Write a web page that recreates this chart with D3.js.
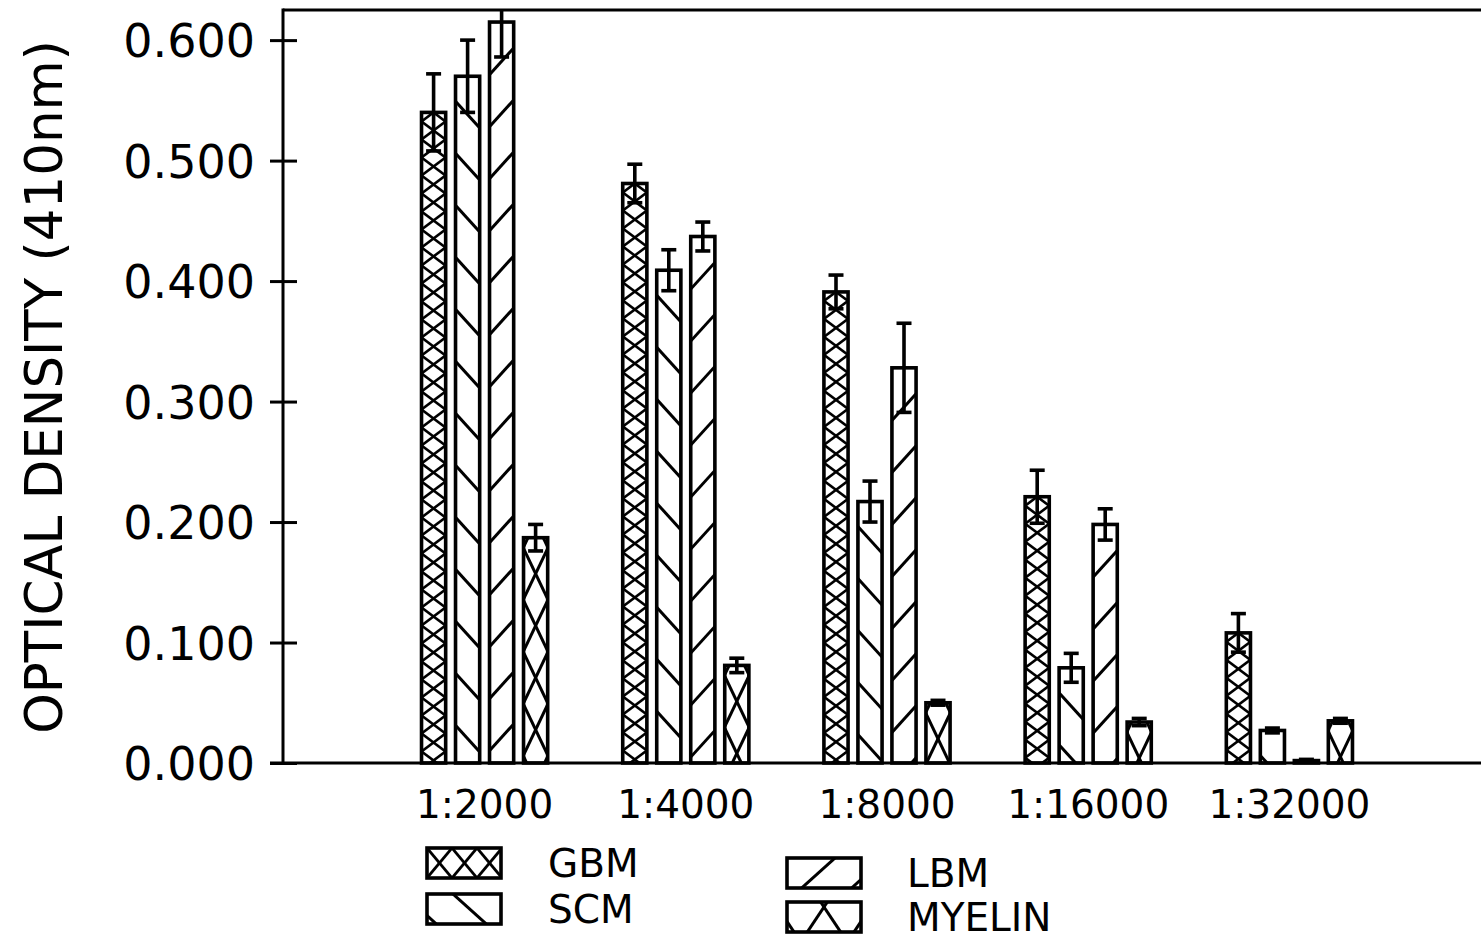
<!DOCTYPE html>
<html><head><meta charset="utf-8">
<script src="https://cdn.jsdelivr.net/npm/d3@7"></script>
<style>body{margin:0;background:#fff}svg{display:block}</style>
</head><body>
<svg id="c" width="1481" height="941"></svg>
<script>
const categories = ["1:2000","1:4000","1:8000","1:16000","1:32000"];
const series = ["GBM","SCM","LBM","MYELIN"];
const gbm       = [0.540,0.481,0.391,0.221,0.108];
const gbmErr    = [0.032,0.016,0.014,0.022,0.016];
const scm       = [0.570,0.409,0.217,0.079,0.027];
const scmErr    = [0.030,0.017,0.017,0.012,0.002];
const lbm       = [0.615,0.437,0.328,0.198,0.002];
const lbmErr    = [0.029,0.012,0.037,0.013,0.001];
const myelin    = [0.187,0.081,0.050,0.034,0.035];
const myelinErr = [0.011,0.006,0.002,0.003,0.002];
const yTicks = [0,0.1,0.2,0.3,0.4,0.5,0.6];
const yTitle = "OPTICAL DENSITY (410nm)";

const values = {GBM:gbm, SCM:scm, LBM:lbm, MYELIN:myelin};
const errors = {GBM:gbmErr, SCM:scmErr, LBM:lbmErr, MYELIN:myelinErr};

const W = 1481, H = 941;
const plot = {left:283, top:10, right:1481, bottom:763};
const FONT = "DejaVu Sans, Liberation Sans, Arial, sans-serif";
const INK = "#000";

const svg = d3.select("#c");
const defs = svg.append("defs");
let cpN = 0;

const y = d3.scaleLinear().domain([0, 0.625]).range([plot.bottom, plot.top]);
const x0 = d3.scaleBand().domain(categories).range([384, 1390]).paddingInner(0.373).paddingOuter(0.1865);
const x1 = d3.scaleBand().domain(series).range([0, x0.bandwidth()]).paddingInner(0.29);

// hatch styles (bar & legend variants)
const barHatch = {
  GBM:    {sw:2.6, fams:[{dir:"/", k:0.75, P:18, a:r=>[r.x, r.y+9]}, {dir:"\\", k:0.75, P:18, a:r=>[r.x, r.y+9]}]},
  SCM:    {sw:3,   fams:[{dir:"\\", k:1.1, P:52, a:r=>[r.x, r.y+25]}]},
  LBM:    {sw:3,   fams:[{dir:"/", k:1.1, P:52, a:r=>[r.x+r.w, r.y+26]}]},
  MYELIN: {sw:3,   fams:[{dir:"/", k:2.1, P:52, a:r=>[r.x+r.w/2, r.y+36]}, {dir:"\\", k:2.1, P:52, a:r=>[r.x+r.w/2, r.y+36]}]}
};
const legHatch = {
  GBM:    {sw:2.8, fams:[{dir:"/", k:1.2, P:30, a:r=>[r.x, r.y]}, {dir:"\\", k:1.2, P:30, a:r=>[r.x, r.y]}]},
  SCM:    {sw:3,   fams:[{dir:"\\", k:0.9, P:45, a:r=>[r.x+26, r.y]}]},
  LBM:    {sw:3,   fams:[{dir:"/", k:0.9, P:45, a:r=>[r.x+r.w-26, r.y]}]},
  MYELIN: {sw:3,   fams:[{dir:"/", k:1.5, P:70, a:r=>[r.x+r.w/2, r.y+5]}, {dir:"\\", k:1.5, P:70, a:r=>[r.x+r.w/2, r.y+5]}]}
};

function hatch(g, r, style) {
  const id = "cp" + (cpN++);
  defs.append("clipPath").attr("id", id).append("rect")
    .attr("x", r.x).attr("y", r.y).attr("width", r.w).attr("height", r.h);
  const hg = g.append("g").attr("clip-path", `url(#${id})`);
  style.fams.forEach(f => {
    const s = f.dir === "/" ? -1 : 1;
    const [ax, ay] = f.a(r);
    const xa = r.x - 6, xb = r.x + r.w + 6;
    const ya = ay + s*f.k*(xa - ax), yb = ay + s*f.k*(xb - ax);
    const lo = Math.min(ya, yb), hi = Math.max(ya, yb);
    const n0 = Math.floor((r.y - hi)/f.P) - 1, n1 = Math.ceil((r.y + r.h - lo)/f.P) + 1;
    for (let n = n0; n <= n1; n++) {
      hg.append("line").attr("x1", xa).attr("y1", ya + n*f.P).attr("x2", xb).attr("y2", yb + n*f.P)
        .attr("stroke", INK).attr("stroke-width", style.sw);
    }
  });
}

defs.append("clipPath").attr("id", "plotclip").append("rect")
  .attr("x", plot.left).attr("y", plot.top).attr("width", plot.right - plot.left).attr("height", plot.bottom - plot.top);

// bars
const barsG = svg.append("g");
categories.forEach((cat, i) => {
  series.forEach(s => {
    const v = values[s][i];
    const r = {x: x0(cat) + x1(s), y: y(v), w: x1.bandwidth(), h: y(0) - y(v)};
    const g = barsG.append("g");
    g.append("rect").attr("x", r.x).attr("y", r.y).attr("width", r.w).attr("height", r.h).attr("fill", "#fff");
    hatch(g, r, barHatch[s]);
    g.append("rect").attr("x", r.x).attr("y", r.y).attr("width", r.w).attr("height", r.h)
      .attr("fill", "none").attr("stroke", INK).attr("stroke-width", 3.6);
  });
});

// error bars
const errG = svg.append("g").attr("clip-path", "url(#plotclip)");
categories.forEach((cat, i) => {
  series.forEach(s => {
    const v = values[s][i], e = errors[s][i];
    const cx = x0(cat) + x1(s) + x1.bandwidth()/2;
    const yt = y(v + e), yb = y(Math.max(0, v - e));
    errG.append("line").attr("x1", cx).attr("x2", cx).attr("y1", yt).attr("y2", yb)
      .attr("stroke", INK).attr("stroke-width", 3.6);
    [yt, yb].forEach(yy => errG.append("line").attr("x1", cx - 7.5).attr("x2", cx + 7.5)
      .attr("y1", yy).attr("y2", yy).attr("stroke", INK).attr("stroke-width", 3.6));
  });
});

// frame lines
const fr = svg.append("g").attr("stroke", INK).attr("stroke-width", 3);
fr.append("line").attr("x1", plot.left).attr("x2", plot.left).attr("y1", plot.top - 1.5).attr("y2", plot.bottom + 1.5);
fr.append("line").attr("x1", plot.left).attr("x2", plot.right).attr("y1", plot.top).attr("y2", plot.top);
fr.append("line").attr("x1", plot.left - 13).attr("x2", plot.right).attr("y1", plot.bottom).attr("y2", plot.bottom);

// y axis
const yAxis = svg.append("g").attr("transform", `translate(${plot.left},0)`)
  .call(d3.axisLeft(y).tickValues(yTicks).tickFormat(d3.format(".3f")).tickSizeInner(13).tickSizeOuter(0).tickPadding(15));
yAxis.select(".domain").remove();
yAxis.selectAll(".tick line").attr("x1", 14).attr("x2", -13).attr("stroke", INK).attr("stroke-width", 3);
yAxis.selectAll(".tick text").attr("font-family", FONT).attr("font-size", 46).attr("fill", INK).attr("dy", "0.36em");

// x axis labels
const xAxis = svg.append("g").attr("transform", `translate(0,${plot.bottom})`)
  .call(d3.axisBottom(x0).tickSize(0));
xAxis.select(".domain").remove();
xAxis.selectAll(".tick text").attr("font-family", FONT).attr("font-size", 39).attr("fill", INK)
  .attr("y", 55).attr("dy", 0);

// y title
svg.append("text").attr("transform", `translate(62,387) rotate(-90)`)
  .attr("text-anchor", "middle").attr("font-family", FONT).attr("font-size", 51.5).attr("fill", INK)
  .text(yTitle);

// legend
const legendPos = [
  {s:"GBM",    sx:427, sy:848, tx:548},
  {s:"SCM",    sx:427, sy:894, tx:548},
  {s:"LBM",    sx:787, sy:858, tx:907},
  {s:"MYELIN", sx:787, sy:902, tx:907}
];
const lg = svg.append("g");
legendPos.forEach(p => {
  const r = {x:p.sx, y:p.sy, w:74, h:30};
  const g = lg.append("g");
  g.append("rect").attr("x", r.x).attr("y", r.y).attr("width", r.w).attr("height", r.h).attr("fill", "#fff");
  hatch(g, r, legHatch[p.s]);
  g.append("rect").attr("x", r.x).attr("y", r.y).attr("width", r.w).attr("height", r.h)
    .attr("fill", "none").attr("stroke", INK).attr("stroke-width", 3.6);
  g.append("text").attr("x", p.tx).attr("y", p.sy + 29).attr("font-family", FONT).attr("font-size", 39)
    .attr("fill", INK).text(p.s);
});
</script>
</body></html>
